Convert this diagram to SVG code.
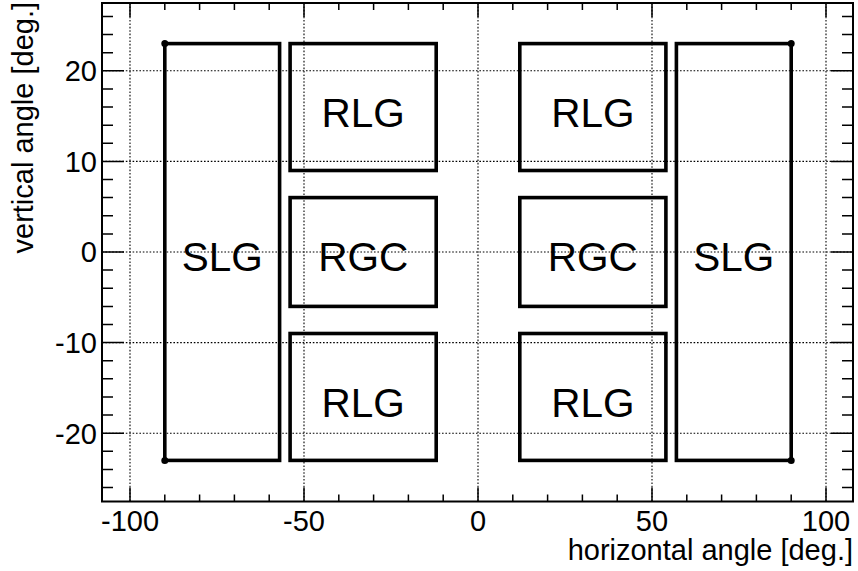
<svg xmlns="http://www.w3.org/2000/svg" width="858" height="571" viewBox="0 0 858 571">
<style>
.grid{stroke:#000;stroke-width:1.1;stroke-dasharray:1.6 1.8;fill:none}
.tick{stroke:#000;stroke-width:1.5;fill:none}
.frame{stroke:#000;stroke-width:2;fill:none}
.box{stroke:#000;stroke-width:3.6;fill:none;stroke-linejoin:miter}
.lbl{font-family:"Liberation Sans",Arial,sans-serif;font-size:29px;fill:#000}
.name{font-family:"Liberation Sans",Arial,sans-serif;font-size:40.5px;fill:#000;text-anchor:middle}
.dot{fill:#000}
</style>
<rect width="858" height="571" fill="#fff"/>
<g id="grid">
<path class="grid" d="M130 3V501.5M304 3V501.5M478 3V501.5M652 3V501.5M826 3V501.5"/>
<path class="grid" d="M102 70.8H853M102 161.4H853M102 252H853M102 342.6H853M102 433.2H853"/>
</g>
<g id="axes">
<path class="tick" d="M164.8 501.5v-7M199.6 501.5v-7M234.4 501.5v-7M269.2 501.5v-7M338.8 501.5v-7M373.6 501.5v-7M408.4 501.5v-7M443.2 501.5v-7M512.8 501.5v-7M547.6 501.5v-7M582.4 501.5v-7M617.2 501.5v-7M686.8 501.5v-7M721.6 501.5v-7M756.4 501.5v-7M791.2 501.5v-7"/>
<path class="tick" d="M130 501.5v-14M304 501.5v-14M478 501.5v-14M652 501.5v-14M826 501.5v-14"/>
<path class="tick" d="M164.8 3v7M199.6 3v7M234.4 3v7M269.2 3v7M338.8 3v7M373.6 3v7M408.4 3v7M443.2 3v7M512.8 3v7M547.6 3v7M582.4 3v7M617.2 3v7M686.8 3v7M721.6 3v7M756.4 3v7M791.2 3v7"/>
<path class="tick" d="M130 3v14M304 3v14M478 3v14M652 3v14M826 3v14"/>
<path class="tick" d="M102 16.4h11M102 34.6h11M102 52.7h11M102 88.9h11M102 107h11M102 125.2h11M102 143.3h11M102 179.5h11M102 197.6h11M102 215.8h11M102 233.9h11M102 270.1h11M102 288.2h11M102 306.4h11M102 324.5h11M102 360.7h11M102 378.8h11M102 397h11M102 415.1h11M102 451.3h11M102 469.4h11M102 487.6h11"/>
<path class="tick" d="M102 70.8h22M102 161.4h22M102 252h22M102 342.6h22M102 433.2h22"/>
<path class="tick" d="M853 16.4h-11M853 34.6h-11M853 52.7h-11M853 88.9h-11M853 107h-11M853 125.2h-11M853 143.3h-11M853 179.5h-11M853 197.6h-11M853 215.8h-11M853 233.9h-11M853 270.1h-11M853 288.2h-11M853 306.4h-11M853 324.5h-11M853 360.7h-11M853 378.8h-11M853 397h-11M853 415.1h-11M853 451.3h-11M853 469.4h-11M853 487.6h-11"/>
<path class="tick" d="M853 70.8h-22M853 161.4h-22M853 252h-22M853 342.6h-22M853 433.2h-22"/>
<rect class="frame" x="102" y="3" width="751" height="498.5"/>
<g class="lbl" text-anchor="middle">
<text x="130" y="531">-100</text>
<text x="304" y="531">-50</text>
<text x="478" y="531">0</text>
<text x="652" y="531">50</text>
<text x="826" y="531">100</text>
</g>
<g class="lbl" text-anchor="end">
<text x="97" y="81.2">20</text>
<text x="97" y="171.8">10</text>
<text x="97" y="262.4">0</text>
<text x="97" y="353">-10</text>
<text x="97" y="443.6">-20</text>
</g>
<text class="lbl" x="853" y="560" text-anchor="end">horizontal angle [deg.]</text>
<text class="lbl" transform="translate(33,2) rotate(-90)" text-anchor="end">vertical angle [deg.]</text>
</g>
<g id="connectors"></g>
<g id="SLG-left">
<rect class="box" x="164.8" y="43.6" width="114.8" height="416.8"/>
<circle class="dot" cx="164.8" cy="43.6" r="3.5"/>
<circle class="dot" cx="164.8" cy="460.4" r="3.5"/>
<text class="name" x="222.2" y="270.5">SLG</text>
</g>
<g id="RLG-left-top">
<rect class="box" x="290.1" y="43.6" width="146.1" height="126.9"/>
<text class="name" x="363.2" y="127">RLG</text>
</g>
<g id="RGC-left">
<rect class="box" x="290.1" y="197.6" width="146.1" height="108.8"/>
<text class="name" x="363.2" y="270.5">RGC</text>
</g>
<g id="RLG-left-bottom">
<rect class="box" x="290.1" y="333.5" width="146.1" height="126.9"/>
<text class="name" x="363.2" y="416.5">RLG</text>
</g>
<g id="RLG-right-top">
<rect class="box" x="519.8" y="43.6" width="146.1" height="126.9"/>
<text class="name" x="592.8" y="127">RLG</text>
</g>
<g id="RGC-right">
<rect class="box" x="519.8" y="197.6" width="146.1" height="108.8"/>
<text class="name" x="592.8" y="270.5">RGC</text>
</g>
<g id="RLG-right-bottom">
<rect class="box" x="519.8" y="333.5" width="146.1" height="126.9"/>
<text class="name" x="592.8" y="416.5">RLG</text>
</g>
<g id="SLG-right">
<rect class="box" x="676.4" y="43.6" width="114.8" height="416.8"/>
<circle class="dot" cx="791.2" cy="43.6" r="3.5"/>
<circle class="dot" cx="791.2" cy="460.4" r="3.5"/>
<text class="name" x="733.8" y="270.5">SLG</text>
</g>
</svg>
